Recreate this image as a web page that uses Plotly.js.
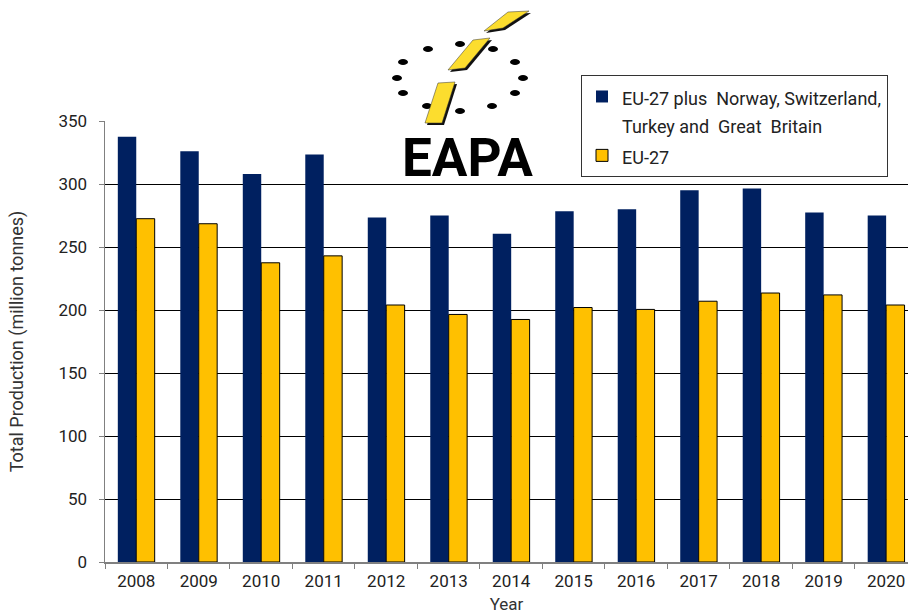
<!DOCTYPE html>
<html>
<head>
<meta charset="utf-8">
<script src="https://cdn.plot.ly/plotly-3.0.1.min.js"></script>
<style>html,body{margin:0;padding:0;background:#fff;}#chart{width:908px;height:614px;}</style>
</head>
<body>
<div id="chart"></div>
<script>
// ---- data ----
var years = ['2008','2009','2010','2011','2012','2013','2014','2015','2016','2017','2018','2019','2020'];
var seriesNames = ['EU-27 plus\u00a0 Norway, Switzerland,', 'Turkey and\u00a0 Great\u00a0 Britain', 'EU-27'];
var eu27Plus = [337.5, 326, 308, 323.5, 273.5, 275, 260.5, 278.5, 280, 295, 296.5, 277.5, 275];
var eu27 = [272.5, 268.5, 237.5, 243, 204, 196.5, 192.5, 202, 200.5, 207, 213.5, 212, 204];
var yTicks = [0, 50, 100, 150, 200, 250, 300, 350];

// ---- layout helpers (pixel -> paper) ----
var L = 105, R = 908, T = 121, B = 562;
function X(px){ return (px - L) / (R - L); }
function Y(py){ return (B - py) / (B - T); }
function poly(pts, dx, dy){
  return pts.map(function(p, i){ return (i ? 'L' : 'M') + X(p[0] + dx).toFixed(5) + ',' + Y(p[1] + dy).toFixed(5); }).join(' ') + ' Z';
}
function sp(t){ return "<span style='font-size:18px'>" + t + "</span>"; }

var dots = [[428,49],[460,44],[493,49],[403,62],[515,62],[397,78],[523,78],[403,93],[515,93],[427,106],[460,111],[492,106]];
var strokes = [
  [[508,12],[529,11],[503,28],[484,31]],
  [[473,40],[490,38],[465,68],[448,70]],
  [[438,83],[455,82],[442,123],[425,123]]
];

var shapes = [{type:'rect', xref:'paper', yref:'paper', layer:'above', x0:X(390), x1:X(532), y0:Y(179), y1:Y(0), fillcolor:'#ffffff', line:{width:0}}];
dots.forEach(function(d){
  shapes.push({type:'circle', xref:'paper', yref:'paper', layer:'above', x0:X(d[0]-5), x1:X(d[0]+5), y0:Y(d[1]+3), y1:Y(d[1]-3), fillcolor:'#000', line:{width:0}});
});
strokes.forEach(function(s){
  shapes.push({type:'path', xref:'paper', yref:'paper', layer:'above', path:poly(s, 2, 2), fillcolor:'#111', line:{width:0}});
  shapes.push({type:'path', xref:'paper', yref:'paper', layer:'above', path:poly(s, 0, 0), fillcolor:'#FCDD2E', line:{color:'#333', width:0.5}});
});

var font = 'Roboto, "DejaVu Sans", sans-serif';

var traces = [
  {type:'bar', x:years, y:eu27Plus, name: sp(seriesNames[0]) + '<br>' + sp(seriesNames[1]), legendgroup:'a',
   marker:{color:'#002060', line:{width:0}}},
  {type:'bar', x:years, y:eu27, name: sp(seriesNames[2]), legendgroup:'b',
   marker:{color:'#FFC000', line:{color:'#000', width:1}}}
];

var layout = {
  width:908, height:614,
  margin:{l:L, r:0, t:T, b:614-B, pad:0},
  paper_bgcolor:'#fff', plot_bgcolor:'#fff',
  font:{family:font, color:'#222', size:17},
  barmode:'group', bargap:0.41, bargroupgap:0,
  showlegend:true,
  legend:{x:X(581), y:Y(75), xanchor:'left', yanchor:'top', bgcolor:'#fff', bordercolor:'#333', borderwidth:1,
          font:{family:font, size:21.5, color:'#222'}, valign:'top', tracegroupgap:0, traceorder:'normal'},
  xaxis:{type:'category', range:[-0.5, 12.35], showline:true, linecolor:'#808080', linewidth:1.5,
         ticks:'outside', tickson:'boundaries', ticklen:5, tickcolor:'#808080', tickwidth:1, ticklabelstandoff:3,
         tickfont:{size:17, color:'#222'}, showgrid:false, fixedrange:true,
         title:{text:'Year', font:{size:17, color:'#333'}, standoff:10}},
  yaxis:{range:[0, 350.05], tickvals:yTicks, showline:true, linecolor:'#808080', linewidth:1.5,
         ticks:'outside', ticklen:5, tickcolor:'#808080', tickwidth:1, ticklabelstandoff:8,
         showgrid:true, gridcolor:'#000', gridwidth:1, zeroline:false,
         tickfont:{size:17, color:'#222'}, fixedrange:true,
         title:{text:'Total Production (million tonnes)', font:{size:18, color:'#333'}, standoff:30}},
  shapes:shapes,
  annotations:[{xref:'paper', yref:'paper', x:X(467), y:Y(158), xanchor:'center', yanchor:'middle', showarrow:false,
                text:'<b>EAPA</b>', font:{family:font, size:53, color:'#000'}}]
};

Plotly.newPlot('chart', traces, layout, {displayModeBar:false, staticPlot:true});
</script>
</body>
</html>
